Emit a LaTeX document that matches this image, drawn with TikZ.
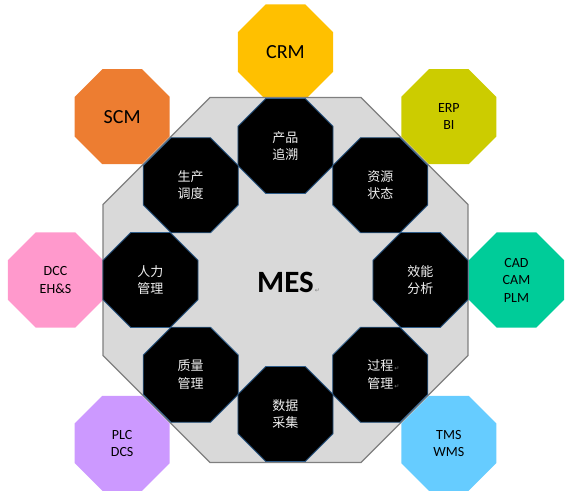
\documentclass[tikz,border=0pt]{standalone}
\usepackage{fontspec}
\setmainfont{Carlito}
\newfontfamily\cjk{Noto Sans CJK SC}
\newfontfamily\symb{DejaVu Sans}
\usetikzlibrary{shapes.geometric}
\definecolor{crmgold}{HTML}{FFC000}
\definecolor{scmorange}{HTML}{ED7D31}
\definecolor{erpolive}{HTML}{CCCC00}
\definecolor{dccpink}{HTML}{FF99CC}
\definecolor{cadgreen}{HTML}{00CC99}
\definecolor{plcviolet}{HTML}{CC99FF}
\definecolor{tmsblue}{HTML}{66CCFF}
\definecolor{mesgray}{HTML}{D9D9D9}
\definecolor{mesline}{HTML}{7F7F7F}
\definecolor{modline}{HTML}{2F5D8A}
\newcommand{\retmark}{\rlap{\symb\mdseries\fontsize{6}{6}\selectfont\color{gray}\,↵}}

\begin{document}
\begin{tikzpicture}[x=1pt,y=1pt]
  \tikzset{oct/.style={regular polygon, regular polygon sides=8,
      inner sep=0, minimum size=103pt, align=center},
    sys/.style={oct, font=\fontsize{14}{17.5}\selectfont},
    mod/.style={oct, fill=black, draw=modline, line width=0.8pt,
      text=gray!12, font=\cjk\fontsize{13}{17.5}\selectfont}}
  \useasboundingbox (-285.5,-218) rectangle (285.5,280);
  % outer systems
  \node[sys, fill=crmgold, font=\fontsize{20}{24}\selectfont] (crm) at (90:228) {CRM};
  \node[sys, fill=scmorange, font=\fontsize{20}{24}\selectfont] (scm) at (135:231) {SCM};
  \node[sys, fill=erpolive] (erp) at (45:231) {ERP\\BI};
  \node[sys, fill=dccpink] (dcc) at (180:230) {DCC\\EH\&S};
  \node[sys, fill=cadgreen] (cad) at (0:231) {CAD\\CAM\\PLM};
  \node[sys, fill=plcviolet] (plc) at (225:231) {PLC\\DCS};
  \node[sys, fill=tmsblue] (tms) at (315:231) {TMS\\WMS};
  % MES body
  \node[oct, minimum size=395pt, fill=mesgray, draw=mesline,
    line width=1.2pt] (mes) at (0,0) {};
  \node[font=\bfseries\fontsize{31}{36}\selectfont] (title) at (0,-2) {MES\retmark};
  % modules
  \node[mod] (trace) at (90:134) {产品\\追溯};
  \node[mod] (sched) at (135:134) {生产\\调度};
  \node[mod] (res) at (45:134) {资源\\状态};
  \node[mod] (hr) at (180:135) {人力\\管理};
  \node[mod] (perf) at (0:135) {效能\\分析};
  \node[mod] (qual) at (225:134) {质量\\管理};
  \node[mod] (proc) at (315:134) {过程\retmark\\管理\retmark};
  \node[mod] (data) at (270:134) {数据\\采集};
\end{tikzpicture}
\end{document}
